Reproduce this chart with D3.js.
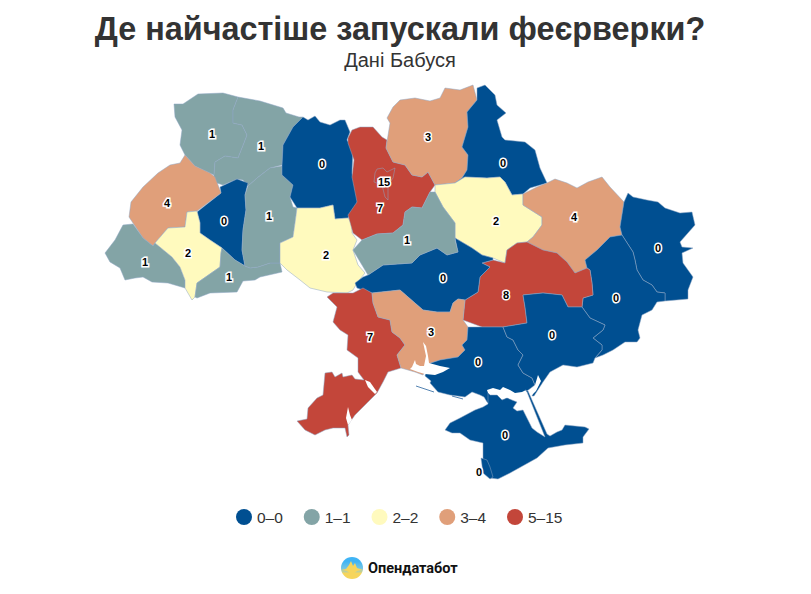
<!DOCTYPE html>
<html lang="uk">
<head>
<meta charset="utf-8">
<script src="https://d3js.org/d3.v7.min.js"></script>
<style>
html, body { margin: 0; padding: 0; background: #fff; }
svg { display: block; font-family: "Liberation Sans", Arial, sans-serif; }
</style>
</head>
<body>
<div id="map"></div>
<script>
var width = 811, height = 594;

var titleText = "Де найчастіше запускали феєрверки?";
var subtitleText = "Дані Бабуся";
var logoText = "Опендатабот";

// regions, number of reports
var regionNames = ["Волинська", "Рівненська", "Тернопільська", "Львівська", "Закарпатська", "Івано-Франківська",
  "Чернівецька", "Хмельницька", "Житомирська", "Вінницька", "Київська", "Чернігівська", "Сумська", "Полтавська",
  "Харківська", "Луганська", "Донецька", "Дніпропетровська", "Кіровоградська", "Черкаська", "Одеська",
  "Миколаївська", "Херсонська", "Запорізька", "Крим", "Київ", "Севастополь"];
var regionValues = [1, 1, 0, 4, 1, 2, 1, 1, 0, 2, 7, 3, 0, 2, 4, 0, 0, 8, 0, 1, 7, 3, 0, 0, 0, 15, 0];

// outlines, in map units
var regionOutlines = [
  [[174,104],[183,104],[198,94],[223,93],[238,97],[233,110],[233,123],[242,125],[247,135],[244,143],[238,158],[225,156],[215,162],[214,175],[195,166],[185,155],[180,145],[182,130],[175,117]],
  [[238,97],[260,101],[283,108],[286,113],[299,117],[303,117],[293,127],[283,145],[282,165],[270,168],[257,178],[248,186],[243,180],[237,179],[223,185],[214,182],[214,175],[215,162],[225,156],[238,158],[244,143],[247,135],[242,125],[233,123],[233,110]],
  [[220,187],[237,179],[248,183],[245,195],[246,210],[243,230],[242,250],[245,266],[235,260],[222,248],[210,240],[200,233],[200,223],[197,212],[221,193]],
  [[185,155],[195,166],[210,173],[215,177],[221,193],[197,211],[187,212],[185,227],[168,228],[155,243],[153,246],[143,238],[133,223],[129,217],[131,202],[143,187],[158,173],[170,165],[180,163]],
  [[123,225],[133,224],[143,238],[153,246],[155,243],[172,257],[180,267],[185,280],[185,288],[168,283],[152,282],[143,277],[135,278],[125,280],[120,268],[110,262],[105,253],[115,240]],
  [[187,212],[197,211],[200,223],[200,233],[210,240],[222,248],[221,253],[220,267],[197,283],[195,297],[192,300],[185,288],[185,280],[180,267],[172,257],[155,243],[168,228],[185,227]],
  [[221,253],[222,248],[235,260],[245,266],[250,268],[258,267],[270,263],[280,263],[282,272],[260,277],[255,280],[243,281],[237,292],[210,293],[197,298],[195,297],[197,283],[220,267]],
  [[248,186],[257,178],[270,168],[282,166],[282,175],[293,185],[290,197],[293,207],[297,208],[295,223],[293,237],[280,243],[280,263],[270,263],[258,267],[250,268],[245,266],[242,250],[243,230],[246,210],[245,195]],
  [[303,117],[308,120],[315,116],[320,122],[330,125],[340,120],[345,120],[350,132],[347,140],[353,150],[352,173],[358,195],[357,205],[348,218],[335,219],[333,205],[320,208],[297,208],[290,197],[293,185],[282,175],[282,165],[283,145],[293,127]],
  [[297,208],[320,208],[333,205],[335,219],[348,218],[352,223],[352,233],[357,240],[353,250],[358,265],[365,273],[357,283],[353,290],[347,293],[327,292],[310,288],[300,280],[287,270],[280,263],[280,243],[293,237],[295,223]],
  [[348,138],[352,130],[360,127],[373,127],[382,137],[387,140],[386,148],[393,162],[405,165],[412,175],[422,177],[428,172],[435,185],[430,192],[422,208],[412,207],[405,212],[403,225],[393,233],[377,234],[362,240],[353,233],[348,215],[357,202],[352,177],[354,160],[348,143]],
  [[400,100],[415,98],[430,101],[440,98],[445,88],[460,90],[473,85],[477,100],[467,112],[468,127],[462,147],[468,155],[467,170],[462,178],[455,183],[435,185],[428,172],[422,177],[412,175],[405,165],[393,162],[386,148],[390,123],[387,118],[393,107]],
  [[477,88],[485,85],[495,95],[497,105],[506,113],[497,120],[502,137],[505,140],[525,142],[535,150],[540,168],[547,183],[530,188],[523,194],[512,195],[505,182],[500,177],[487,178],[465,177],[455,183],[462,178],[467,170],[468,155],[462,147],[468,127],[467,112],[477,100]],
  [[435,185],[455,183],[465,177],[487,178],[500,177],[505,182],[512,195],[523,194],[523,205],[542,217],[542,225],[533,237],[527,242],[517,243],[507,250],[505,263],[493,258],[482,255],[472,248],[455,238],[455,223],[443,207],[435,192]],
  [[523,194],[537,187],[547,183],[555,179],[567,183],[577,188],[588,182],[602,177],[610,187],[624,202],[620,227],[622,235],[610,237],[597,250],[585,260],[587,268],[575,273],[567,262],[557,253],[543,250],[527,242],[533,237],[542,225],[542,217],[523,205]],
  [[624,202],[628,193],[633,197],[647,200],[658,202],[665,208],[680,213],[692,212],[695,225],[680,242],[682,247],[693,248],[682,253],[683,263],[693,277],[688,290],[688,299],[665,301],[665,293],[657,292],[652,285],[643,280],[637,270],[635,260],[633,252],[622,235],[620,227]],
  [[622,235],[633,252],[635,260],[637,270],[643,280],[652,285],[657,292],[665,293],[665,301],[657,302],[652,310],[642,315],[638,330],[640,338],[637,342],[625,342],[613,350],[603,355],[595,358],[602,350],[602,345],[593,338],[603,330],[605,325],[590,318],[582,307],[583,298],[593,295],[592,283],[590,270],[587,268],[585,260],[597,250],[610,237]],
  [[493,260],[482,263],[490,267],[480,277],[478,292],[465,300],[463,320],[482,327],[503,327],[527,323],[525,307],[523,295],[543,293],[562,295],[568,307],[582,307],[583,298],[593,295],[592,283],[590,270],[587,268],[575,273],[567,262],[557,253],[543,250],[527,242],[517,243],[507,250],[505,263]],
  [[355,283],[363,277],[368,275],[383,265],[412,263],[420,255],[437,248],[447,255],[458,252],[455,238],[472,248],[482,255],[493,258],[493,260],[482,263],[490,267],[480,277],[478,292],[465,300],[458,299],[453,303],[450,312],[437,312],[423,310],[400,290],[372,293],[363,290],[357,288]],
  [[430,192],[435,192],[443,207],[455,223],[455,240],[458,252],[447,255],[437,248],[420,255],[412,263],[383,265],[368,275],[365,270],[353,250],[362,240],[377,234],[393,233],[403,225],[405,212],[412,207],[422,208]],
  [[327,297],[333,293],[353,293],[363,288],[372,293],[373,303],[378,317],[390,320],[392,332],[400,338],[405,345],[397,355],[401,368],[388,372],[383,382],[377,393],[368,402],[355,415],[348,425],[349,435],[347,437],[345,428],[333,428],[325,430],[315,435],[305,430],[297,421],[307,419],[308,408],[317,398],[323,395],[325,373],[332,372],[335,377],[342,373],[343,377],[352,375],[355,379],[364,380],[358,372],[358,358],[347,350],[348,335],[340,330],[333,322],[337,307],[332,302]],
  [[372,293],[400,290],[423,310],[437,312],[450,312],[453,303],[458,299],[465,300],[463,320],[468,327],[467,340],[462,345],[465,350],[458,357],[440,360],[428,364],[427,368],[423,375],[415,372],[401,368],[397,355],[405,345],[400,338],[392,332],[390,320],[378,317],[373,303]],
  [[428,364],[440,360],[458,357],[465,350],[462,345],[467,340],[468,327],[482,327],[503,327],[507,337],[513,340],[518,350],[523,355],[518,365],[523,373],[532,378],[535,385],[527,391],[510,400],[495,400],[489,404],[487,402],[484,397],[480,395],[472,392],[465,397],[450,395],[438,392],[430,383],[431,381],[425,376]],
  [[503,327],[527,323],[525,307],[523,295],[543,293],[562,295],[568,307],[582,307],[590,318],[605,325],[603,330],[593,338],[602,345],[602,350],[595,358],[593,363],[577,367],[563,365],[550,372],[543,382],[534,396],[532,396],[535,385],[532,378],[523,373],[518,365],[523,355],[518,350],[513,340],[507,337]],
  [[445,430],[450,423],[460,418],[475,410],[483,407],[488,404],[488,393],[490,395],[497,395],[502,400],[507,398],[517,402],[513,408],[517,411],[523,410],[528,420],[532,428],[537,432],[545,437],[527,392],[525,390],[528,391],[547,434],[550,436],[557,432],[562,430],[565,425],[585,427],[589,429],[583,437],[583,443],[565,445],[548,448],[537,458],[510,473],[498,479],[490,478],[483,467],[483,457],[483,443],[470,440],[460,433],[452,433]],
  [[377,169],[383,168],[387,172],[395,168],[393,178],[388,185],[388,200],[385,197],[382,185],[374,182],[375,173]],
  [[481,458],[487,460],[490,467],[493,477],[490,479],[483,473]]
];

// label anchor of every region, in map units
var labelPoints = [[212,134],[261,146],[224,221],[167,203],[145,262],[188,253],[229,277],[269,216],[322,164],[326,255],
  [380,208],[428,137],[503,163],[496,221],[574,217],[658,248],[616,298],[506,295],[443,278],[407,240],[370,337],
  [431,332],[478,362],[552,335],[505,435],[384,182],[479,472]];

// estuaries and Syvash, cut out of the land
var waterOutlines = [
  [[487,390],[493,388],[500,390],[503,387],[510,390],[515,393],[522,392],[526,390],[545,436],[532,428],[528,420],[523,410],[517,411],[513,408],[517,402],[507,398],[502,400],[497,395],[490,395],[488,393]],
  [[538,375],[541,381],[536,391],[532,395],[529,393],[535,385]],
  [[423,342],[426,346],[428,356],[429,363],[440,366],[450,368],[443,372],[435,375],[425,374],[418,372],[410,369],[412,367],[415,360],[416,364],[420,366],[424,366],[426,356]],
  [[365,380],[370,382],[377,392],[375,394],[368,387]],
  [[348,407],[350,415],[352,420],[348,425],[346,418]]
];

// thin sand bars off the coast
var sandBars = [
  [[416,386],[425,389],[434,392]],
  [[452,396],[463,399]]
];

var legendLabels = ["0–0", "1–1", "2–2", "3–4", "5–15"];
var legendStarts = [0, 1, 2, 3, 5];
var legendColors = ["#004f91", "#83a4a6", "#fffabe", "#e09f7a", "#c3463a"];

var color = d3.scaleThreshold().domain(legendStarts.slice(1)).range(legendColors);

var svg = d3.select("#map").append("svg")
  .attr("width", width)
  .attr("height", height);

// title
svg.append("text")
  .attr("x", 400).attr("y", 40)
  .attr("text-anchor", "middle")
  .style("font-size", "32.4px").style("font-weight", "bold")
  .style("fill", "#333")
  .text(titleText);
svg.append("text")
  .attr("x", 400).attr("y", 67)
  .attr("text-anchor", "middle")
  .style("font-size", "20px")
  .style("fill", "#333")
  .text(subtitleText);

// map units are already page pixels
var projection = d3.geoIdentity();
var path = d3.geoPath().projection(projection);

var features = regionNames.map(function (name, i) {
  return {
    type: "Feature",
    properties: { name: name, value: regionValues[i], label: labelPoints[i] },
    geometry: { type: "Polygon", coordinates: [regionOutlines[i].concat([regionOutlines[i][0]])] }
  };
});

function drawRegions(list) {
  svg.append("g").selectAll("path")
    .data(list)
    .enter().append("path")
    .attr("d", path)
    .attr("fill", function (d) { return color(d.properties.value); })
    .attr("stroke", "#8fa6c4")
    .attr("stroke-width", 0.5)
    .attr("stroke-linejoin", "round");
}

drawRegions(features.slice(0, 24));

svg.append("g").selectAll("path")
  .data(waterOutlines)
  .enter().append("path")
  .attr("d", function (ring) {
    return path({ type: "Polygon", coordinates: [ring.concat([ring[0]])] });
  })
  .attr("fill", "#fff");

svg.append("g").selectAll("path")
  .data(sandBars)
  .enter().append("path")
  .attr("d", function (line) {
    return path({ type: "LineString", coordinates: line });
  })
  .attr("fill", "none")
  .attr("stroke", "#3f74a8")
  .attr("stroke-width", 0.9);

// Crimea goes over the cut-outs, then the two cities
drawRegions(features.slice(24));

svg.append("g").selectAll("text")
  .data(features)
  .enter().append("text")
  .attr("transform", function (d) { return "translate(" + projection(d.properties.label) + ")"; })
  .attr("dy", "0.36em")
  .attr("text-anchor", "middle")
  .style("font-size", "11px").style("font-weight", "bold")
  .style("fill", "#000")
  .style("stroke", "#fff").style("stroke-width", 3).style("paint-order", "stroke")
  .text(function (d) { return d.properties.value; });

// legend
var legendX = d3.scalePoint().domain(legendLabels).range([244, 515]);
var legend = svg.append("g").selectAll("g")
  .data(legendLabels)
  .enter().append("g")
  .attr("transform", function (d) { return "translate(" + legendX(d) + ",517)"; });
legend.append("circle")
  .attr("r", 8)
  .attr("fill", function (d, i) { return legendColors[i]; });
legend.append("text")
  .attr("x", 13).attr("dy", "0.36em")
  .style("font-size", "15.5px")
  .style("fill", "#333")
  .text(function (d) { return d; });

// logo
var defs = svg.append("defs");
var grad = defs.append("linearGradient")
  .attr("id", "logoFill").attr("x1", 0).attr("y1", 0).attr("x2", 0).attr("y2", 1);
grad.append("stop").attr("offset", "0.2").attr("stop-color", "#3fb4f5");
grad.append("stop").attr("offset", "0.55").attr("stop-color", "#7cc7e0");
grad.append("stop").attr("offset", "0.75").attr("stop-color", "#f6d55c");
defs.append("clipPath").attr("id", "logoClip")
  .append("circle").attr("cx", 352).attr("cy", 568).attr("r", 11);
var logo = svg.append("g").attr("clip-path", "url(#logoClip)");
logo.append("rect")
  .attr("x", 341).attr("y", 557).attr("width", 22).attr("height", 22)
  .attr("fill", "url(#logoFill)");
logo.append("path")
  .attr("d", d3.line()([[341,570],[346,569],[349,565],[351,561],[353,566],[355,563],[357,568],[363,570],[357,571],[352,575],[347,571]]))
  .attr("fill", "#f6d55c");
svg.append("text")
  .attr("x", 368).attr("y", 573)
  .style("font-family", "Roboto, sans-serif")
  .style("font-size", "14.5px").style("font-weight", "bold")
  .style("fill", "#111")
  .text(logoText);
</script>
</body>
</html>
